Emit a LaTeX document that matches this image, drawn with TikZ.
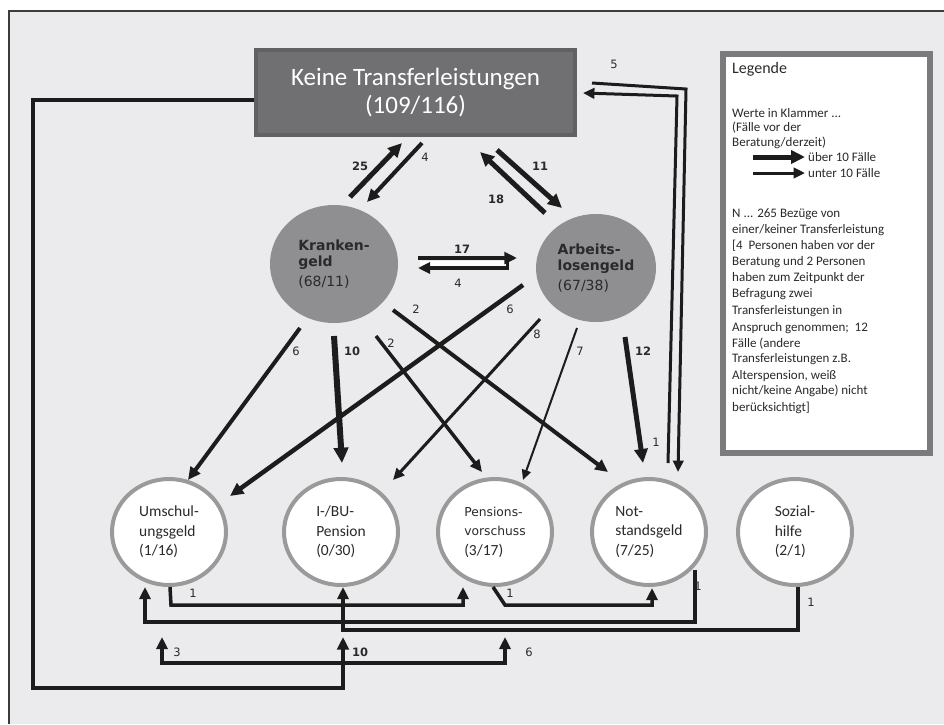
\documentclass[tikz,border=0pt]{standalone}
\usepackage{fontspec}
\setmainfont{Carlito}
\newfontfamily\dvs{DejaVu Sans}
\usetikzlibrary{arrows.meta,shapes.geometric,calc}
\definecolor{bg}{HTML}{EBEBED}
\definecolor{framegray}{HTML}{3C3C3C}
\definecolor{boxfill}{HTML}{707072}
\definecolor{boxline}{HTML}{616163}
\definecolor{circgray}{HTML}{8F8F91}
\definecolor{ringgray}{HTML}{9A9A9A}
\definecolor{leggray}{HTML}{7B7B7D}
\definecolor{ink}{HTML}{1C1C1C}
\definecolor{txt}{HTML}{2A2A2A}
\begin{document}
\begin{tikzpicture}[x=1pt,y=-1pt,
 fl/.style={draw=ink, line width=#1, -{Triangle[length=7.5pt 1.3,width=6.5pt 1.3]}},
 fltwo/.style={draw=ink, line width=#1, {Triangle[length=7.5pt 1.3,width=6.5pt 1.3]}-{Triangle[length=7.5pt 1.3,width=6.5pt 1.3]}},
 ln/.style={draw=ink, line width=#1},
 num/.style={font=\dvs\fontsize{11.5}{13}\selectfont, text=txt, inner sep=0},
 numb/.style={font=\dvs\bfseries\fontsize{11.5}{13}\selectfont, text=txt, inner sep=0},
 graycirc/.style={ellipse, fill=circgray, inner sep=0, align=left, text=txt, font=\dvs\fontsize{14}{16}\selectfont},
 ring/.style={ellipse, draw=ringgray, line width=4, fill=white, minimum width=114, minimum height=106, inner sep=0, align=left, text=txt, font=\fontsize{15.5}{19.5}\selectfont},
 legtxt/.style={anchor=base west, inner sep=0, text=txt, font=\fontsize{13}{15}\selectfont},
]
\useasboundingbox (0,0) rectangle (944,724);
\fill[white] (0,0) rectangle (944,724);
\fill[bg] (9,11) rectangle (944,724);
\draw[draw=framegray, line width=1.5] (9,724) -- (9,11) -- (944,11);

% main nodes
\node[draw=boxline, fill=boxfill, line width=4, minimum width=319, minimum height=85, inner sep=0, align=center, text=white, font=\fontsize{25}{27.5}\selectfont] (kt) at (415.5,92.5) {Keine Transferleistungen\\(109/116)};
\node[graycirc, minimum width=128, minimum height=118] (kg) at (334,264) {\textbf{Kranken-}\\\textbf{geld}\\[4pt](68/11)};
\node[graycirc, minimum width=120, minimum height=108] (al) at (596,268) {\textbf{Arbeits-}\\\textbf{losengeld}\\[4pt](67/38)};
\node[ring] (us) at (169,532) {Umschul-\\ungsgeld\\(1/16)};
\node[ring] (bu) at (341,532) {I-/BU-\\Pension\\(0/30)};
\node[ring] (pv) at (495,532) {{\dvs\fontsize{12.3}{18}\selectfont Pensions-}\\{\dvs\fontsize{12.3}{18}\selectfont vorschuss}\\(3/17)};
\node[ring] (ns) at (649,532) {Not-\\standsgeld\\(7/25)};
\node[ring] (sh) at (795,532) {Sozial-\\hilfe\\(2/1)};

% legend
\node[draw=leggray, line width=6, fill=white, minimum width=207, minimum height=399, inner sep=0, anchor=north west] (lg) at (720,51) {};
\node[anchor=base west, inner sep=0, text=txt, font=\fontsize{16}{18}\selectfont] (lgt) at (732,73) {Legende};
\node[legtxt] (l1) at (732,117) {Werte in Klammer ...};
\node[legtxt] (l2) at (732,131) {(Fälle vor der};
\node[legtxt] (l3) at (732,146) {Beratung/derzeit)};
\coordinate (la1) at (753,157); \coordinate (la2) at (805,157);
\coordinate (lb1) at (753,173); \coordinate (lb2) at (805,173);
\draw[fl=5] (la1) -- (la2);
\draw[fl=3] (lb1) -- (lb2);
\node[legtxt] (l4) at (808,161) {über 10 Fälle};
\node[legtxt] (l5) at (808,177) {unter 10 Fälle};
\node[legtxt] (n1) at (732,217) {N ... 265 Bezüge von};
\node[legtxt] (n2) at (732,233) {einer/keiner Transferleistung};
\node[legtxt] (n3) at (732,249) {[4\ \ Personen haben vor der};
\node[legtxt] (n4) at (732,265) {Beratung und 2 Personen};
\node[legtxt] (n5) at (732,281) {haben zum Zeitpunkt der};
\node[legtxt] (n6) at (732,297) {Befragung zwei};
\node[legtxt] (n7) at (732,314) {Transferleistungen in};
\node[legtxt] (n8) at (732,331) {Anspruch genommen;\ \ 12};
\node[legtxt] (n9) at (732,347) {Fälle (andere};
\node[legtxt] (n10) at (732,362) {Transferleistungen z.B.};
\node[legtxt] (n11) at (732,379) {Alterspension, weiß};
\node[legtxt] (n12) at (732,394) {nicht/keine Angabe) nicht};
\node[legtxt] (n13) at (732,411) {berücksichtigt]};

% top arrows
\draw[fl=5] ([shift={(16,-67)}]kg.center) -- ([shift={(-13.5,50.5)}]kt.center);
\draw[fl=4] ([shift={(6.5,50.5)}]kt.center) -- ([shift={(33,-62)}]kg.center);
\draw[fl=5] ([shift={(81.5,57.5)}]kt.center) -- ([shift={(-34,-60)}]al.center);
\draw[fl=5] ([shift={(-51,-55)}]al.center) -- ([shift={(64.5,59.5)}]kt.center);
% 17 / 4 pair
\fill[white] ([shift={(86,-3)}]kg.center) rectangle ([shift={(-89,-2)}]al.center);
\draw[fl=4] ([shift={(84,-6)}]kg.center) -- ([shift={(-79,-10)}]al.center);
\draw[fl=3.5] ([shift={(-88,0)}]al.center) -- ([shift={(84,4)}]kg.center);
\draw[ln=3] ([shift={(-89,-10)}]al.center) -- ([shift={(-89,1.5)}]al.center);

% right long connectors
\coordinate (c5) at (686,89);
\coordinate (c1) at (677,96);
\draw[fl=3] ([shift={(176.5,-9.5)}]kt.center) -- (c5) -- ([shift={(29,-60)}]ns.center);
\draw[fl=3] ([shift={(19,-69)}]ns.center) -- (c1) -- ([shift={(167.5,0.5)}]kt.center);

% diagonal arrows
\draw[fl=4] ([shift={(-34,64)}]kg.center) -- ([shift={(19,-52)}]us.center);
\draw[fl=6] ([shift={(0,72)}]kg.center) -- ([shift={(1,-69)}]bu.center);
\draw[fl=3.5] ([shift={(42,72)}]kg.center) -- ([shift={(-13,-60)}]pv.center);
\draw[fl=4] ([shift={(59,46)}]kg.center) -- ([shift={(-41,-60)}]ns.center);
\draw[fl=4.5] ([shift={(-73,17)}]al.center) -- ([shift={(61,-36)}]us.center);
\draw[fl=3] ([shift={(-56,51)}]al.center) -- ([shift={(52,-52)}]bu.center);
\draw[fl=2] ([shift={(-19,60)}]al.center) -- ([shift={(28,-52)}]pv.center);
\draw[fl=5] ([shift={(29,69)}]al.center) -- ([shift={(-6,-69)}]ns.center);

% bottom connectors
\draw[fl=3.5] ([shift={(1,55)}]us.center) -- (171,605) -- (463,605) -- ([shift={(-32,55)}]pv.center);
\draw[fl=3.5] ([shift={(46,38)}]ns.center) -- (695,622) -- (145,622) -- ([shift={(-24,55)}]us.center);
\draw[fl=3.5] ([shift={(3,55)}]sh.center) -- (798,630) -- (343,630) -- ([shift={(2,55)}]bu.center);
\draw[fl=3.5] ([shift={(-2,55)}]pv.center) -- (505,605) -- (652,605) -- ([shift={(3,56)}]ns.center);
\draw[fl=4] ([shift={(-161.5,7.5)}]kt.center) -- (33,100) -- (33,688) -- (343,688) -- ([shift={(2,105)}]bu.center);
\draw[fltwo=3.5] ([shift={(-7,105)}]us.center) -- (162,663) -- (505,663) -- ([shift={(10,105)}]pv.center);

% labels
\node[numb] (t25) at (360,166) {25};
\node[num] (t4a) at (425,157) {4};
\node[numb] (t11) at (540,166) {11};
\node[numb] (t18) at (496,199) {18};
\node[numb] (t17) at (462,249) {17};
\node[num] (t4b) at (458,283) {4};
\node[num] (t5) at (614,64) {5};
\node[num] (t1a) at (656,442) {1};
\node[num] (t6a) at (296,351) {6};
\node[numb] (t10a) at (352,351) {10};
\node[num] (t2a) at (391,343) {2};
\node[num] (t2b) at (416,309) {2};
\node[num] (t6b) at (510,309) {6};
\node[num] (t8) at (537,334) {8};
\node[num] (t7) at (580,351) {7};
\node[numb] (t12) at (643,351) {12};
\node[num] (t1b) at (193,593) {1};
\node[num] (t1c) at (510,593) {1};
\node[num] (t1d) at (698,586) {1};
\node[num] (t1e) at (811,602) {1};
\node[num] (t3) at (177,652) {3};
\node[numb] (t10b) at (360,652) {10};
\node[num] (t6c) at (529,652) {6};
\end{tikzpicture}
\end{document}
